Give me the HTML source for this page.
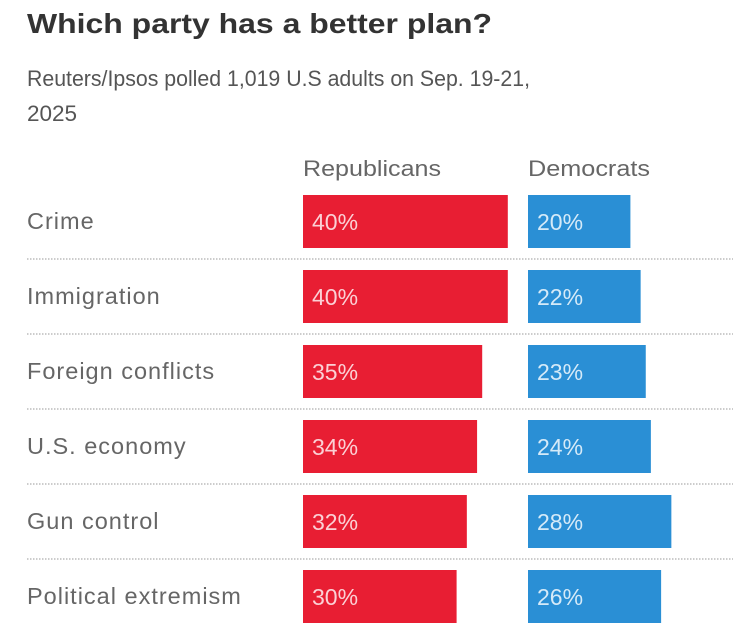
<!DOCTYPE html>
<html><head><meta charset="utf-8"><style>
body{margin:0;background:#fff;width:733px;height:627px;overflow:hidden;font-family:"Liberation Sans",sans-serif;}
</style></head><body>
<svg width="733" height="627" xmlns="http://www.w3.org/2000/svg">
<text x="27" y="33" font-size="28" font-weight="bold" fill="#333" textLength="465" lengthAdjust="spacingAndGlyphs">Which party has a better plan?</text>
<text x="27" y="86" font-size="22.5" fill="#555" textLength="503" lengthAdjust="spacingAndGlyphs">Reuters/Ipsos polled 1,019 U.S adults on Sep. 19-21,</text>
<text x="27" y="121" font-size="22.5" fill="#555">2025</text>
<text x="303" y="176" font-size="22" fill="#666" textLength="138" lengthAdjust="spacingAndGlyphs">Republicans</text>
<text x="528" y="176" font-size="22" fill="#666" textLength="122" lengthAdjust="spacingAndGlyphs">Democrats</text>
<g id="rows"></g>
</svg>
<script>
const categories=["Crime","Immigration","Foreign conflicts","U.S. economy","Gun control","Political extremism"];
const republicans=[40,40,35,34,32,30];
const democrats=[20,22,23,24,28,26];
const NS="http://www.w3.org/2000/svg";
const g=document.getElementById('rows');
const scale=v=>v*5.12;
const rowY=i=>195+i*75;
function mk(tag,attrs){const e=document.createElementNS(NS,tag);for(const k in attrs)e.setAttribute(k,attrs[k]);g.appendChild(e);return e;}
categories.forEach((c,i)=>{
  const y=rowY(i);
  const lab=mk('text',{x:27,y:y+34,'font-size':23.5,fill:'#666','letter-spacing':1});lab.textContent=c;
  
  
  const rb=mk('rect',{x:303,y:y,width:scale(republicans[i]),height:53,fill:'#e81e33'});
  
  
  const rt=mk('text',{x:312,y:y+35,'font-size':23,fill:'#fbd0d5'});rt.textContent=republicans[i]+'%';
  
  
  const db=mk('rect',{x:528,y:y,width:scale(democrats[i]),height:53,fill:'#2a8fd5'});
  
  
  const dt=mk('text',{x:537,y:y+35,'font-size':23,fill:'#d5eaf8'});dt.textContent=democrats[i]+'%';
  
  
  if(i<categories.length-1){
    const ln=mk('line',{x1:27,x2:733,y1:y+64,y2:y+64,stroke:'#bbb','stroke-width':1.5,'stroke-dasharray':'1.5 1.5'});
    
    
  }
});
</script>
</body></html>
